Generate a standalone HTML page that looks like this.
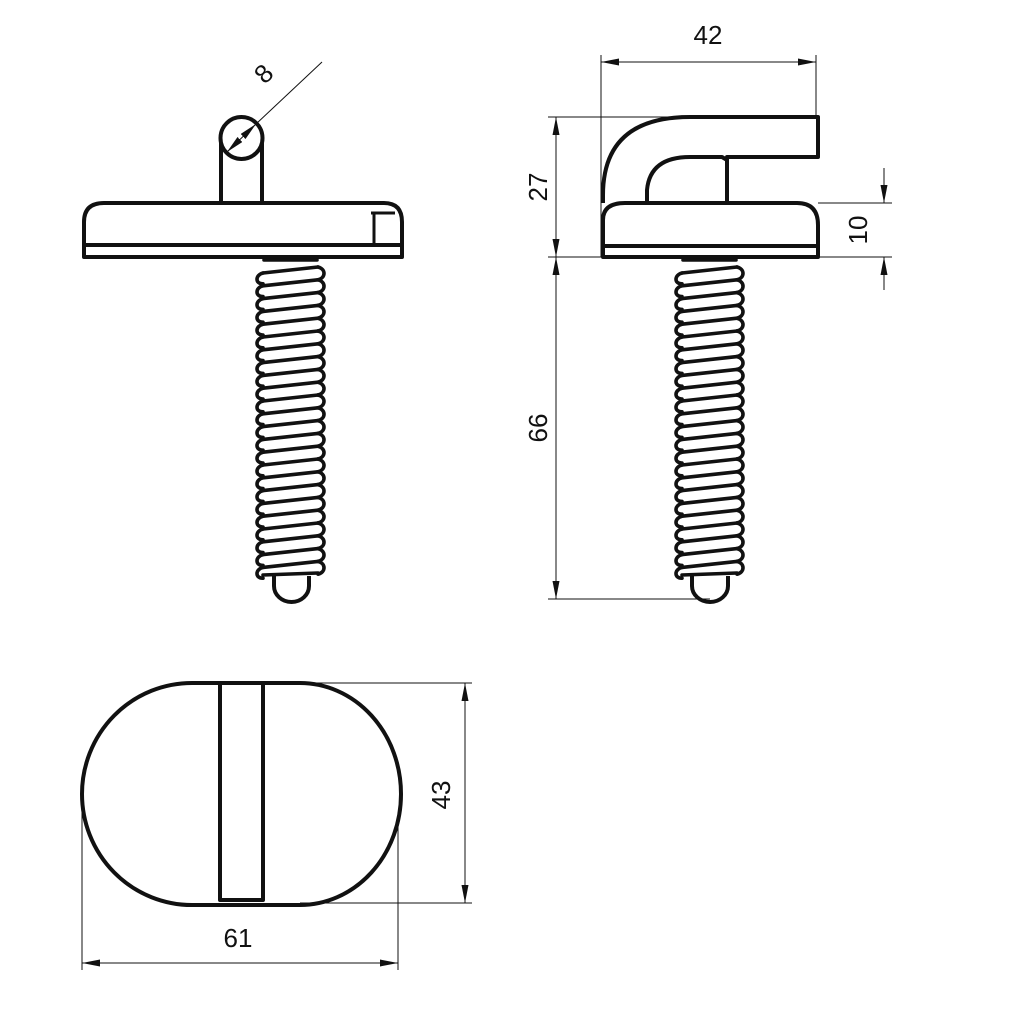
<!DOCTYPE html>
<html><head><meta charset="utf-8"><style>
html,body{margin:0;padding:0;background:#fff;}
svg{display:block;}
text{font-family:"Liberation Sans",sans-serif;font-size:26px;fill:#111;}
</style></head><body>
<svg id="s" width="1024" height="1024" viewBox="0 0 1024 1024" xmlns="http://www.w3.org/2000/svg">
<defs>
<marker id="a" viewBox="0 0 18 7" refX="18" refY="3.5" markerWidth="18" markerHeight="7" orient="auto-start-reverse" markerUnits="userSpaceOnUse"><path d="M0,0 L18,3.5 L0,7 z" fill="#111"/></marker>
</defs>
<g fill="none" stroke="#111" stroke-width="4" stroke-linejoin="round">
<path d="M221,203 V138 A21,21 0 0 1 262,138 V203" fill="#fff"/>
<circle cx="241.5" cy="138" r="21" fill="#fff"/>
<path d="M84,257 V222 Q84,203 104,203 H384 Q402,203 402,222 V257 Z" fill="#fff"/>
<line x1="84" y1="245" x2="402" y2="245"/>
<path d="M371,213 H395 M374,213 V244" stroke-width="3"/>
<path d="M274,576 V586 A17.5,16 0 0 0 309,586 V576"/>
<path d="M603,203 V195 Q603,117 690,117 H818 V157 H727 V203" fill="#fff"/>
<path d="M647,203 V190 Q650,157 690,157 H722 L727,160"/>
<path d="M603,257 V220 Q603,203 625,203 H797 Q818,203 818,225 V257 Z" fill="#fff"/>
<line x1="603" y1="246" x2="818" y2="246"/>
<path d="M692,576 V586 A18,16 0 0 0 728,586 V576"/>
<path d="M192,683 H300 A101,111 0 0 1 300,905 H192 A110,111 0 0 1 192,683 Z"/>
<path d="M220,683 V900 H263 V683"/>
</g>
<g id="thr" fill="none" stroke="#111" stroke-width="3.6" stroke-linecap="round"></g>
<g stroke="#111" stroke-width="1" fill="none">
<line x1="322" y1="62" x2="256" y2="124"/>
<line x1="256" y1="124" x2="227" y2="152" marker-start="url(#a)" marker-end="url(#a)"/>
<line x1="601" y1="55" x2="601" y2="257"/>
<line x1="816" y1="55" x2="816" y2="117"/>
<line x1="601" y1="62" x2="816" y2="62" marker-start="url(#a)" marker-end="url(#a)"/>
<line x1="548" y1="117" x2="690" y2="117"/>
<line x1="548" y1="257" x2="603" y2="257"/>
<line x1="548" y1="599" x2="710" y2="599"/>
<line x1="556" y1="117" x2="556" y2="257" marker-start="url(#a)" marker-end="url(#a)"/>
<line x1="556" y1="257" x2="556" y2="599" marker-start="url(#a)" marker-end="url(#a)"/>
<line x1="818" y1="203" x2="892" y2="203"/>
<line x1="818" y1="257" x2="892" y2="257"/>
<line x1="884" y1="168" x2="884" y2="203" marker-end="url(#a)"/>
<line x1="884" y1="290" x2="884" y2="257" marker-end="url(#a)"/>
<line x1="300" y1="683" x2="472" y2="683"/>
<line x1="300" y1="903" x2="472" y2="903"/>
<line x1="465" y1="683" x2="465" y2="903" marker-start="url(#a)" marker-end="url(#a)"/>
<line x1="82" y1="812" x2="82" y2="970"/>
<line x1="398" y1="812" x2="398" y2="970"/>
<line x1="82" y1="963" x2="398" y2="963" marker-start="url(#a)" marker-end="url(#a)"/>
</g>
<text x="708" y="44" text-anchor="middle">42</text>
<text transform="translate(547,187) rotate(-90)" text-anchor="middle">27</text>
<text transform="translate(547,428) rotate(-90)" text-anchor="middle">66</text>
<text transform="translate(867,230) rotate(-90)" text-anchor="middle">10</text>
<text transform="translate(450,795) rotate(-90)" text-anchor="middle">43</text>
<text x="238" y="947" text-anchor="middle">61</text>
<text transform="translate(270,80) rotate(-45)" text-anchor="middle">8</text>
</svg>
<script>
(function(){
var g=document.getElementById('thr'),s='';
function screw(x0,x1,top,bot){
  s+='<line x1="'+(x0+3)+'" y1="'+(top+3)+'" x2="'+(x1-3)+'" y2="'+(top+3)+'"/>';
  var p=12.8,n=Math.floor((bot-top-8)/p);
  for(var i=0;i<n;i++){
    var y=top+10+i*p;
    s+='<path d="M'+(x0+2)+','+(y+6)+' L'+(x1-2)+','+(y)+'"/>';
    s+='<path d="M'+(x0+2)+','+(y+6)+' C'+(x0-6)+','+(y+8)+' '+(x0-6)+','+(y+17)+' '+(x0+2)+','+(y+6+p-2)+'"/>';
    s+='<path d="M'+(x1-2)+','+(y)+' C'+(x1+6)+','+(y+2)+' '+(x1+6)+','+(y+p-2)+' '+(x1-2)+','+(y+p)+'"/>';
  }
  s+='<line x1="'+(x0+2)+'" y1="'+(bot-2)+'" x2="'+(x1-2)+'" y2="'+(bot-4)+'"/>';
}
screw(261,320,257,577);
screw(680,739,257,577);
g.innerHTML=s;
})();
</script>
</body></html>
